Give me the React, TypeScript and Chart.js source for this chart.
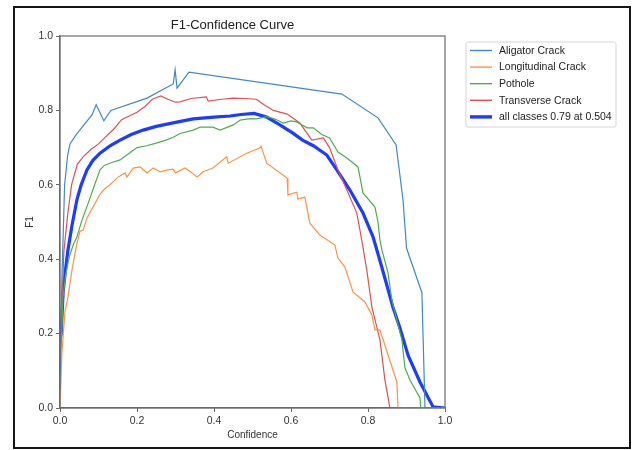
import React, { useEffect, useRef } from "react";
import { Chart, registerables } from "chart.js";

Chart.register(...registerables);

const FONT = '"Liberation Sans", Arial, Helvetica, sans-serif';

const chartTitle = "F1-Confidence Curve";
const xTitle = "Confidence";
const yTitle = "F1";
const tickValues = [0, 0.2, 0.4, 0.6, 0.8, 1.0];

const seriesLabels = [
  "Aligator Crack",
  "Longitudinal Crack",
  "Pothole",
  "Transverse Crack",
  "all classes 0.79 at 0.504",
];

const aligatorX = [0, 0.005, 0.012, 0.02, 0.026, 0.042, 0.083, 0.094, 0.114, 0.132, 0.226, 0.294, 0.299, 0.304, 0.335, 0.732, 0.826, 0.873, 0.891, 0.9, 0.94, 0.948, 1.0];
const aligatorY = [0.05, 0.35, 0.6, 0.68, 0.71, 0.735, 0.788, 0.815, 0.772, 0.8, 0.833, 0.871, 0.909, 0.86, 0.903, 0.844, 0.78, 0.707, 0.559, 0.43, 0.31, 0.0, 0.0];

const longitudinalX = [0, 0.005, 0.013, 0.021, 0.031, 0.044, 0.052, 0.06, 0.07, 0.08, 0.091, 0.104, 0.117, 0.13, 0.15, 0.169, 0.174, 0.19, 0.208, 0.226, 0.242, 0.26, 0.28, 0.294, 0.3, 0.325, 0.343, 0.356, 0.372, 0.397, 0.433, 0.437, 0.485, 0.519, 0.522, 0.537, 0.59, 0.592, 0.615, 0.618, 0.636, 0.649, 0.675, 0.714, 0.722, 0.74, 0.761, 0.792, 0.81, 0.818, 0.831, 0.875, 0.878, 1.0];
const longitudinalY = [0.0, 0.15, 0.26, 0.3, 0.37, 0.443, 0.475, 0.478, 0.51, 0.53, 0.55, 0.575, 0.59, 0.6, 0.62, 0.632, 0.621, 0.645, 0.648, 0.632, 0.645, 0.635, 0.64, 0.642, 0.632, 0.645, 0.632, 0.621, 0.635, 0.645, 0.675, 0.658, 0.685, 0.699, 0.704, 0.658, 0.618, 0.573, 0.58, 0.562, 0.567, 0.497, 0.465, 0.438, 0.403, 0.379, 0.312, 0.285, 0.25, 0.21, 0.21, 0.07, 0.0, 0.0];

const potholeX = [0, 0.008, 0.015, 0.025, 0.035, 0.044, 0.057, 0.073, 0.09, 0.104, 0.115, 0.135, 0.156, 0.18, 0.2, 0.225, 0.25, 0.275, 0.294, 0.312, 0.346, 0.364, 0.397, 0.416, 0.45, 0.468, 0.494, 0.51, 0.537, 0.56, 0.58, 0.6, 0.615, 0.623, 0.642, 0.658, 0.68, 0.7, 0.722, 0.745, 0.774, 0.787, 0.818, 0.826, 0.831, 0.836, 0.852, 0.862, 0.888, 0.896, 0.909, 0.935, 0.937, 1.0];
const potholeY = [0.1, 0.3, 0.36, 0.41, 0.44, 0.46, 0.505, 0.55, 0.6, 0.64, 0.652, 0.66, 0.667, 0.685, 0.7, 0.705, 0.712, 0.72, 0.728, 0.738, 0.747, 0.755, 0.755, 0.747, 0.761, 0.774, 0.778, 0.777, 0.783, 0.776, 0.766, 0.772, 0.769, 0.764, 0.753, 0.753, 0.735, 0.726, 0.688, 0.672, 0.648, 0.578, 0.54, 0.5, 0.452, 0.425, 0.363, 0.29, 0.183, 0.108, 0.075, 0.027, 0.0, 0.0];

const transverseX = [0, 0.01, 0.02, 0.03, 0.045, 0.06, 0.08, 0.1, 0.12, 0.14, 0.16, 0.18, 0.2, 0.22, 0.24, 0.262, 0.28, 0.3, 0.312, 0.34, 0.38, 0.385, 0.42, 0.45, 0.48, 0.51, 0.53, 0.554, 0.59, 0.623, 0.654, 0.684, 0.7, 0.722, 0.745, 0.771, 0.784, 0.797, 0.81, 0.831, 0.844, 0.857, 1.0];
const transverseY = [0.12, 0.42, 0.52, 0.6, 0.655, 0.675, 0.695, 0.71, 0.73, 0.75, 0.775, 0.785, 0.795, 0.81, 0.83, 0.839, 0.83, 0.822, 0.823, 0.832, 0.836, 0.825, 0.83, 0.833, 0.832, 0.83, 0.815, 0.8, 0.79, 0.766, 0.72, 0.726, 0.7, 0.64, 0.586, 0.524, 0.45, 0.37, 0.272, 0.183, 0.075, 0.0, 0.0];

const allX = [0, 0.003, 0.008, 0.013, 0.02, 0.031, 0.044, 0.055, 0.07, 0.085, 0.104, 0.13, 0.156, 0.185, 0.216, 0.25, 0.278, 0.31, 0.346, 0.4, 0.442, 0.47, 0.504, 0.537, 0.57, 0.605, 0.63, 0.658, 0.693, 0.719, 0.753, 0.787, 0.813, 0.83, 0.849, 0.865, 0.883, 0.904, 0.935, 0.969, 1.0];
const allY = [0.18, 0.2, 0.31, 0.36, 0.42, 0.49, 0.56, 0.6, 0.64, 0.665, 0.685, 0.705, 0.72, 0.735, 0.747, 0.757, 0.763, 0.77, 0.777, 0.782, 0.785, 0.789, 0.792, 0.782, 0.762, 0.739, 0.72, 0.705, 0.68, 0.64, 0.586, 0.524, 0.46, 0.4, 0.33, 0.27, 0.215, 0.142, 0.07, 0.003, 0.0];

const seriesColors = ["#3f8ac6", "#fd9446", "#4fae4b", "#e05252", "#1c3cff"];
const seriesWidths = [1.2, 1.2, 1.2, 1.2, 3.2];

const toPoints = (xs: number[], ys: number[]) => xs.map((x, i) => ({ x, y: ys[i] }));

const boxLegend = {
  id: "boxLegend",
  afterDraw(chart: any) {
    const ctx = chart.ctx as CanvasRenderingContext2D;
    const area = chart.chartArea;
    const bx = area.right + 21;
    const by = area.top + 6;
    const bw = 150;
    const rowH = 16.6;
    const n = chart.data.datasets.length;
    const bh = rowH * n + 2;
    ctx.save();
    ctx.fillStyle = "rgba(255,255,255,0.9)";
    ctx.strokeStyle = "#d6d6d6";
    ctx.lineWidth = 1;
    const r = 2;
    ctx.beginPath();
    ctx.moveTo(bx + r, by);
    ctx.lineTo(bx + bw - r, by);
    ctx.quadraticCurveTo(bx + bw, by, bx + bw, by + r);
    ctx.lineTo(bx + bw, by + bh - r);
    ctx.quadraticCurveTo(bx + bw, by + bh, bx + bw - r, by + bh);
    ctx.lineTo(bx + r, by + bh);
    ctx.quadraticCurveTo(bx, by + bh, bx, by + bh - r);
    ctx.lineTo(bx, by + r);
    ctx.quadraticCurveTo(bx, by, bx + r, by);
    ctx.closePath();
    ctx.fill();
    ctx.stroke();
    ctx.font = `10.5px ${FONT}`;
    ctx.textBaseline = "middle";
    ctx.textAlign = "left";
    chart.data.datasets.forEach((ds: any, i: number) => {
      const y = by + 8.5 + i * rowH;
      ctx.strokeStyle = ds.borderColor;
      ctx.lineWidth = ds.borderWidth > 2 ? 3.4 : 1.4;
      ctx.beginPath();
      ctx.moveTo(bx + 4, y);
      ctx.lineTo(bx + 26, y);
      ctx.stroke();
      ctx.fillStyle = "#222";
      ctx.fillText(ds.label, bx + 33, y + 0.5);
    });
    ctx.restore();
  },
};

const frameSpines = {
  id: "frameSpines",
  afterDatasetsDraw(chart: any) {
    const { ctx, chartArea } = chart;
    ctx.save();
    ctx.strokeStyle = "#6a6a6a";
    ctx.lineWidth = 1.2;
    ctx.strokeRect(chartArea.left, chartArea.top, chartArea.right - chartArea.left, chartArea.bottom - chartArea.top);
    ctx.restore();
  },
};

export default function App() {
  const canvasRef = useRef<HTMLCanvasElement | null>(null);

  useEffect(() => {
    if (!canvasRef.current) return;
    const xsList = [aligatorX, longitudinalX, potholeX, transverseX, allX];
    const ysList = [aligatorY, longitudinalY, potholeY, transverseY, allY];
    const datasets = seriesLabels.map((label, i) => ({
      label,
      data: toPoints(xsList[i], ysList[i]),
      borderColor: seriesColors[i],
      backgroundColor: seriesColors[i],
      borderWidth: seriesWidths[i],
      pointRadius: 0,
      tension: 0,
      fill: false,
    }));

    const chart = new Chart(canvasRef.current, {
      type: "line",
      data: { datasets },
      plugins: [frameSpines, boxLegend],
      options: {
        animation: false,
        responsive: false,
        maintainAspectRatio: false,
        layout: { padding: { left: 20, top: 12, right: 194, bottom: 5 } },
        plugins: {
          legend: { display: false },
          tooltip: { enabled: false },
          title: {
            display: true,
            text: chartTitle,
            color: "#222",
            font: { family: FONT, size: 13, weight: "normal" },
            padding: { top: 6, bottom: 2.4 },
          },
        },
        scales: {
          x: {
            type: "linear",
            min: 0,
            max: 1,
            afterFit: (s: any) => {
              s.height = 37;
            },
            afterBuildTicks: (s: any) => {
              s.ticks = tickValues.map((v) => ({ value: v }));
            },
            ticks: {
              color: "#333",
              padding: 3,
              maxRotation: 0,
              font: { family: FONT, size: 10.5 },
              callback: (v: any) => Number(v).toFixed(1),
            },
            grid: { drawOnChartArea: false, drawTicks: true, tickLength: 4, color: "#6a6a6a", lineWidth: 1 },
            border: { display: true, color: "#6a6a6a", width: 1.2 },
            title: {
              display: true,
              text: xTitle,
              color: "#333",
              font: { family: FONT, size: 10 },
              padding: { top: 2, bottom: 4 },
            },
          },
          y: {
            type: "linear",
            min: 0,
            max: 1,
            afterFit: (s: any) => {
              s.width = 40;
            },
            afterBuildTicks: (s: any) => {
              s.ticks = tickValues.map((v) => ({ value: v }));
            },
            ticks: {
              color: "#333",
              padding: 3,
              font: { family: FONT, size: 10.5 },
              callback: (v: any) => Number(v).toFixed(1),
            },
            grid: { drawOnChartArea: false, drawTicks: true, tickLength: 4, color: "#6a6a6a", lineWidth: 1 },
            border: { display: true, color: "#6a6a6a", width: 1.2 },
            title: {
              display: true,
              text: yTitle,
              color: "#333",
              font: { family: FONT, size: 10 },
              padding: { top: 4.5, bottom: 2 },
            },
          },
        },
      },
    } as any);
    return () => chart.destroy();
  }, []);

  return (
    <div style={{ position: "absolute", left: 0, top: 0, width: 639, height: 450, background: "#fff" }}>
      <canvas ref={canvasRef} width={639} height={450} style={{ position: "absolute", left: 0, top: 0, width: 639, height: 450 }} />
      <div
        style={{
          position: "absolute",
          left: 13,
          top: 6,
          width: 618,
          height: 443,
          border: "2.5px solid #161616",
          boxSizing: "border-box",
          pointerEvents: "none",
        }}
      />
    </div>
  );
}
